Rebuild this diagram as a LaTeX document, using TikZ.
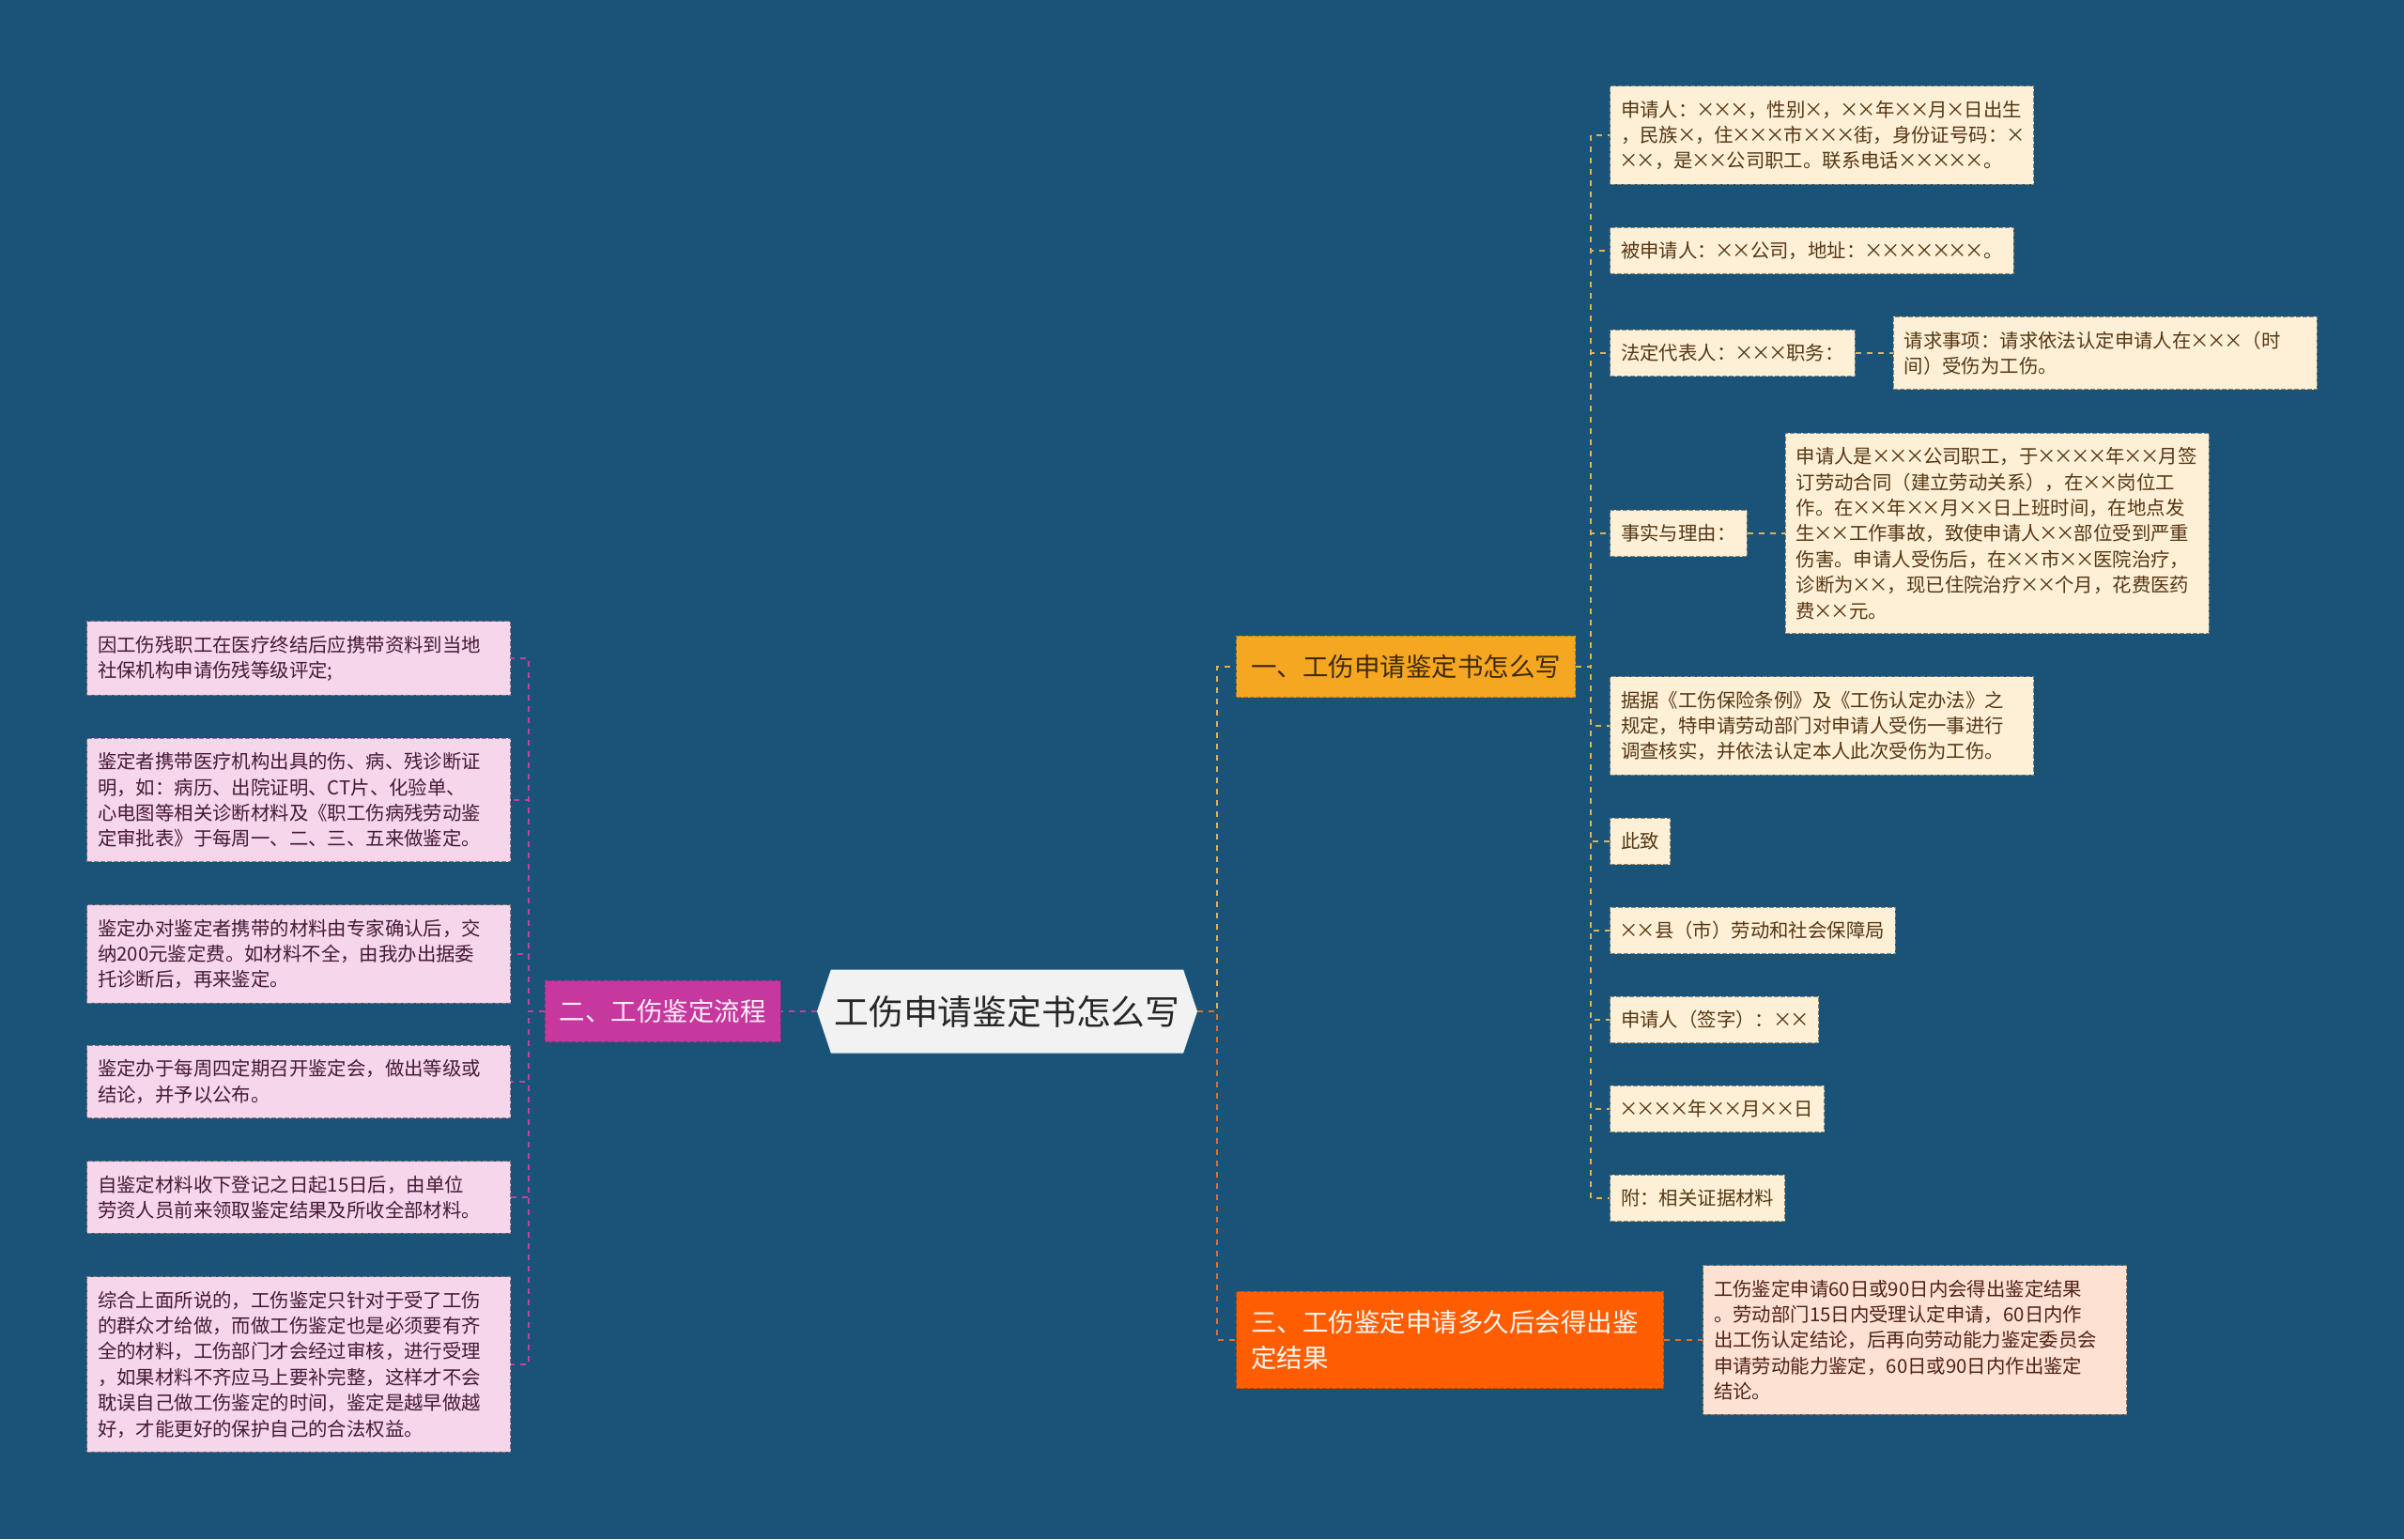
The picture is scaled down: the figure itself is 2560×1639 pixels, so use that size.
\documentclass[tikz,border=0pt]{standalone}
\usepackage{fontspec}
\usepackage{newunicodechar}
\newfontfamily\cjk{Noto Sans CJK SC}
\newunicodechar{×}{\makebox[0.88em]{\char"D7}}
\usetikzlibrary{positioning}
\usetikzlibrary{shapes.symbols}

\definecolor{bgblue}{RGB}{26,83,120}
\definecolor{rootgrey}{RGB}{242,242,242}
\definecolor{amber}{RGB}{246,167,34}
\definecolor{plum}{RGB}{199,56,158}
\definecolor{flame}{RGB}{255,93,1}
\definecolor{cream}{RGB}{254,240,214}
\definecolor{blush}{RGB}{245,214,234}
\definecolor{peach}{RGB}{253,225,210}
\definecolor{goldline}{RGB}{226,178,80}
\definecolor{plumline}{RGB}{196,64,160}
\definecolor{flameline}{RGB}{226,110,45}
\definecolor{creamtext}{RGB}{85,55,20}
\definecolor{blushtext}{RGB}{70,25,55}
\definecolor{peachtext}{RGB}{80,35,20}

\tikzset{
  topic/.style={signal, signal to=east and west, signal pointer angle=143,
    fill=rootgrey, text=black!85, font=\cjk\fontsize{18.4pt}{22pt}\selectfont,
    minimum width=202.5pt, minimum height=44.5pt, inner sep=0pt},
  branch/.style={rectangle, fill=#1, draw=#1!75!black, dash pattern=on 2.5pt off 1pt,
    line width=0.5pt, font=\cjk\fontsize{13.75pt}{18.8pt}\selectfont,
    inner xsep=7.75pt, inner ysep=10pt},
  kid/.style={rectangle, fill=#1, draw=#1!55!black, dash pattern=on 2.5pt off 1pt,
    line width=0.5pt, font=\cjk\fontsize{10.2pt}{13.7pt}\selectfont,
    inner xsep=5.8pt, inner ysep=7.6pt},
  wide/.style={text width=214pt, align=left},
  link/.style={draw=#1, dash pattern=on 3pt off 3pt, line width=1.2pt},
}

\begin{document}
\begin{tikzpicture}[x=0.5pt, y=-0.5pt]
% background and frame
\fill[bgblue] (0,0) rectangle (2560,1639);
\useasboundingbox (0,0) rectangle (2560,1639);

% trunks
\coordinate (rt) at (1296,0);
\coordinate (t1) at (1694,0);
\coordinate (t2) at (563,0);

% centre and branches
\node[topic] (root) at (1072.5,1077) {工伤申请鉴定书怎么写};
\node[branch=plum, text=white!92!plum, left=19pt of root] (b2) {二、工伤鉴定流程};
\node[branch=amber, text=black!75!amber, anchor=west] (b1) at (1316,710) {一、工伤申请鉴定书怎么写};
\node[branch=flame, text=white!95!flame, anchor=west, text width=212pt, align=left] (b3) at (1316,1427)
  {三、工伤鉴定申请多久后会得出鉴\\定结果};

% branch one
\node[kid=cream, text=creamtext, wide, anchor=west] (c1) at (1714,144)
  {申请人：×××，性别×，××年××月×日出生\\，民族×，住×××市×××街，身份证号码：×\\××，是××公司职工。联系电话×××××。};
\node[kid=cream, text=creamtext, anchor=west] (c2) at (1714,267) {被申请人：××公司，地址：×××××××。};
\node[kid=cream, text=creamtext, anchor=west] (c3) at (1714,376) {法定代表人：×××职务：};
\node[kid=cream, text=creamtext, wide, right=20pt of c3] (c3a)
  {请求事项：请求依法认定申请人在×××（时\\间）受伤为工伤。};
\node[kid=cream, text=creamtext, anchor=west] (c4) at (1714,568) {事实与理由：};
\node[kid=cream, text=creamtext, wide, right=20pt of c4] (c4a)
  {申请人是×××公司职工，于××××年××月签\\订劳动合同（建立劳动关系），在××岗位工\\作。在××年××月××日上班时间，在地点发\\生××工作事故，致使申请人××部位受到严重\\伤害。申请人受伤后，在××市××医院治疗，\\诊断为××，现已住院治疗××个月，花费医药\\费××元。};
\node[kid=cream, text=creamtext, wide, anchor=west] (c5) at (1714,773)
  {据据《工伤保险条例》及《工伤认定办法》之\\规定，特申请劳动部门对申请人受伤一事进行\\调查核实，并依法认定本人此次受伤为工伤。};
\node[kid=cream, text=creamtext, anchor=west] (c6) at (1714,896) {此致};
\node[kid=cream, text=creamtext, anchor=west] (c7) at (1714,991) {××县（市）劳动和社会保障局};
\node[kid=cream, text=creamtext, anchor=west] (c8) at (1714,1086) {申请人（签字）：××};
\node[kid=cream, text=creamtext, anchor=west] (c9) at (1714,1181) {××××年××月××日};
\node[kid=cream, text=creamtext, anchor=west] (c10) at (1714,1276) {附：相关证据材料};

% branch two
\node[kid=blush, text=blushtext, wide, anchor=west] (d1) at (92,701)
  {因工伤残职工在医疗终结后应携带资料到当地\\社保机构申请伤残等级评定;};
\node[kid=blush, text=blushtext, wide, anchor=west] (d2) at (92,852)
  {鉴定者携带医疗机构出具的伤、病、残诊断证\\明，如：病历、出院证明、CT片、化验单、\\心电图等相关诊断材料及《职工伤病残劳动鉴\\定审批表》于每周一、二、三、五来做鉴定。};
\node[kid=blush, text=blushtext, wide, anchor=west] (d3) at (92,1016)
  {鉴定办对鉴定者携带的材料由专家确认后，交\\纳200元鉴定费。如材料不全，由我办出据委\\托诊断后，再来鉴定。};
\node[kid=blush, text=blushtext, wide, anchor=west] (d4) at (92,1152)
  {鉴定办于每周四定期召开鉴定会，做出等级或\\结论，并予以公布。};
\node[kid=blush, text=blushtext, wide, anchor=west] (d5) at (92,1275)
  {自鉴定材料收下登记之日起15日后，由单位\\劳资人员前来领取鉴定结果及所收全部材料。};
\node[kid=blush, text=blushtext, wide, anchor=west] (d6) at (92,1453)
  {综合上面所说的，工伤鉴定只针对于受了工伤\\的群众才给做，而做工伤鉴定也是必须要有齐\\全的材料，工伤部门才会经过审核，进行受理\\，如果材料不齐应马上要补完整，这样才不会\\耽误自己做工伤鉴定的时间，鉴定是越早做越\\好，才能更好的保护自己的合法权益。};

% branch three
\node[kid=peach, text=peachtext, wide, right=20.5pt of b3] (e1)
  {工伤鉴定申请60日或90日内会得出鉴定结果\\。劳动部门15日内受理认定申请，60日内作\\出工伤认定结论，后再向劳动能力鉴定委员会\\申请劳动能力鉴定，60日或90日内作出鉴定\\结论。};

% connectors
\draw[link=goldline] (root.east) -- (root.east -| rt) |- (b1.west);
\draw[link=flameline] (root.east) -- (root.east -| rt) |- (b3.west);
\draw[link=plumline] (root.west) -- (b2.east);
\foreach \k in {c1,c2,c3,c4,c5,c6,c7,c8,c9,c10}
  \draw[link=goldline] (b1.east) -- (b1.east -| t1) |- (\k.west);
\draw[link=goldline] (c3) -- (c3a);
\draw[link=goldline] (c4) -- (c4a);
\foreach \k in {d1,d2,d3,d4,d5,d6}
  \draw[link=plumline] (b2.west) -- (b2.west -| t2) |- (\k.east);
\draw[link=flameline] (b3) -- (e1);

\end{tikzpicture}
\end{document}
